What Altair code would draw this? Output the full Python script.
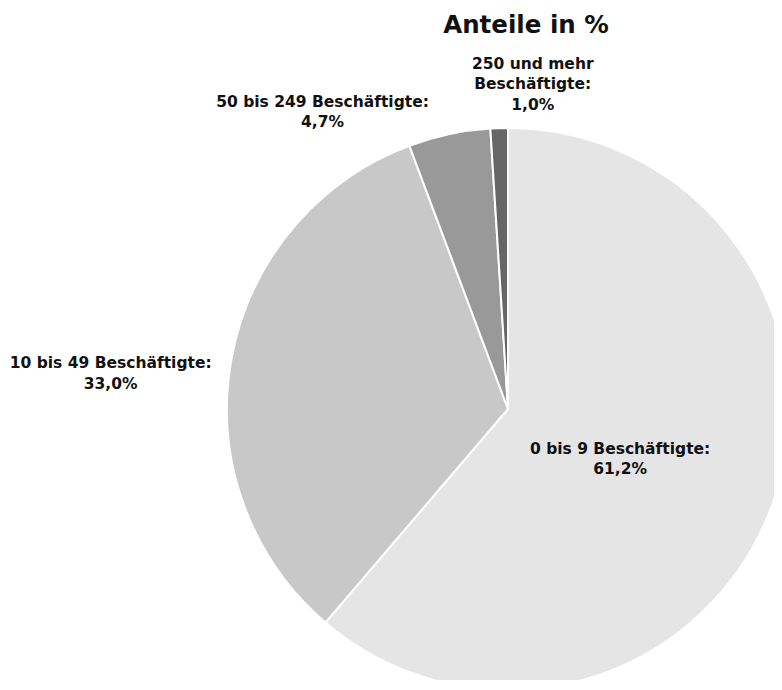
import math
import altair as alt
import pandas as pd

# --- data ---
categories = ["0 bis 9 Beschäftigte", "10 bis 49 Beschäftigte",
              "50 bis 249 Beschäftigte", "250 und mehr Beschäftigte"]
shares = [61.2, 33.0, 4.7, 1.0]
label_texts = ["0 bis 9 Beschäftigte:\n61,2%",
               "10 bis 49 Beschäftigte:\n33,0%",
               "50 bis 249 Beschäftigte:\n4,7%",
               "250 und mehr\nBeschäftigte:\n1,0%"]
colors = ["#e5e5e5", "#c8c8c8", "#999999", "#666666"]
title_lines = ["Struktur der Betriebe: Verteilung", "Anteile in %"]

# --- label layout: anchor of the first text line
#     (angle clockwise from 12 o'clock in degrees, distance from pie centre in px) ---
label_angle = [109.6, 276.6, 328.9, 4.1]
label_radius = [119, 400, 359, 346]

CX, CY, R = 500, 401, 281
FONT = "DejaVu Sans"

df = pd.DataFrame({
    "cat": categories,
    "share": shares,
    "order": list(range(len(categories))),
})
lab = pd.DataFrame({
    "cat": categories,
    "txt": label_texts,
    "ang": [math.radians(a) for a in label_angle],
    "rad": label_radius,
})

pie = alt.Chart(df).mark_arc(
    radius=R, stroke="white", strokeWidth=2, x=CX, y=CY
).encode(
    theta=alt.Theta("share:Q", stack=True),
    order=alt.Order("order:Q"),
    color=alt.Color("cat:N", scale=alt.Scale(domain=categories, range=colors), legend=None),
)

labels = alt.Chart(lab).mark_text(
    x=CX, y=CY, font=FONT, fontSize=15.5, fontWeight="bold", color="#111111",
    align="center", baseline="middle", lineBreak="\n", lineHeight=20.5,
).encode(
    theta=alt.Theta("ang:Q", scale=None),
    radius=alt.Radius("rad:Q", scale=None),
    text="txt:N",
)

t1 = alt.Chart(pd.DataFrame({"t": [title_lines[0]]})).mark_text(
    font=FONT, fontSize=24.5, fontWeight="bold", color="#111111",
    align="right", baseline="alphabetic",
).encode(x=alt.value(707), y=alt.value(-8.5), text="t:N")

t2 = alt.Chart(pd.DataFrame({"t": [title_lines[1]]})).mark_text(
    font=FONT, fontSize=24.5, fontWeight="bold", color="#111111",
    align="center", baseline="alphabetic",
).encode(x=alt.value(518), y=alt.value(25), text="t:N")

chart = alt.layer(pie, labels, t1, t2).properties(
    width=766, height=672,
    autosize=alt.AutoSizeParams(type="none"),
    padding=0,
).configure_view(stroke=None)

chart.save("out.html", embed_options={"renderer": "svg", "actions": False})
